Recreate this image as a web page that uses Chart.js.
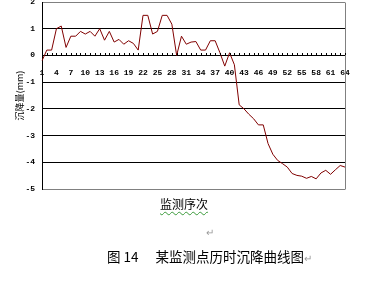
<!DOCTYPE html>
<html>
<head>
<meta charset="utf-8">
<script src="https://cdn.jsdelivr.net/npm/chart.js@4"></script>
<style>
  body { margin: 0; background: #fff; width: 385px; height: 282px; overflow: hidden; position: relative; font-family: "Noto Sans CJK SC", sans-serif; }
  #wrap { position: absolute; left: 0; top: -8px; width: 385px; height: 205px; }
  .txt { position: absolute; white-space: nowrap; color: #000; }
  .mark { color: #999; }
</style>
</head>
<body>
<div id="wrap"><canvas id="settleChart"></canvas></div>
<div class="txt" style="left:160px; top:195px; font-size:12px; text-decoration: underline wavy #3a9a3a; text-decoration-thickness: 1px; text-underline-offset: 2px;">监测序次</div>
<div class="txt mark" style="left:206px; top:224px; font-size:10px;">↵</div>
<div class="txt" style="left:107px; top:246px; font-size:13.5px;">图 14<span style="display:inline-block;width:17px"></span>某监测点历时沉降曲线图<span class="mark" style="font-size:10px">↵</span></div>

<script>
// monitoring sequence numbers
const seqLabels = ['1','2','3','4','5','6','7','8','9','10','11','12','13','14','15','16',
  '17','18','19','20','21','22','23','24','25','26','27','28','29','30','31','32',
  '33','34','35','36','37','38','39','40','41','42','43','44','45','46','47','48',
  '49','50','51','52','53','54','55','56','57','58','59','60','61','62','63','64'];

// settlement (mm)
const settlement = [-0.2, 0.2, 0.2, 1.0, 1.1, 0.3, 0.72, 0.72, 0.9, 0.8, 0.9, 0.72, 1.0, 0.57, 0.9, 0.5,
  0.6, 0.42, 0.55, 0.45, 0.2, 1.5, 1.5, 0.8, 0.9, 1.5, 1.5, 1.17, 0.0, 0.72, 0.42, 0.5,
  0.52, 0.2, 0.2, 0.55, 0.55, 0.1, -0.4, 0.1, -0.35, -1.85, -2.0, -2.2, -2.37, -2.6, -2.6, -3.3,
  -3.7, -3.93, -4.05, -4.18, -4.42, -4.49, -4.52, -4.6, -4.53, -4.62, -4.4, -4.3, -4.45, -4.28, -4.12, -4.18];

const yMin = -5, yMax = 2;
const yAxisTitle = '沉降量(mm)';

// gray frame on the right + little category ticks sitting on the zero line
const framePlugin = {
  id: 'frame',
  afterDraw(chart) {
    const { ctx, chartArea: a, scales } = chart;
    ctx.save();
    ctx.strokeStyle = '#808080';
    ctx.lineWidth = 1;
    ctx.beginPath();
    ctx.moveTo(Math.round(a.right) + 0.5, Math.round(a.top) + 0.5);
    ctx.lineTo(Math.round(a.right) + 0.5, Math.round(a.bottom) + 0.5);
    ctx.stroke();
    ctx.fillStyle = '#000';
    const y0 = Math.round(scales.y.getPixelForValue(0));
    seqLabels.forEach((l, i) => {
      const px = Math.round(scales.x.getPixelForValue(i));
      ctx.fillRect(px, y0 - 2, 1, 2);
    });
    ctx.restore();
  }
};

new Chart(document.getElementById('settleChart'), {
  type: 'line',
  data: {
    labels: seqLabels,
    datasets: [{
      data: settlement,
      borderColor: '#800000',
      borderWidth: 1,
      pointRadius: 0,
      tension: 0,
      fill: false
    }]
  },
  options: {
    responsive: true,
    maintainAspectRatio: false,
    animation: false,
    layout: { padding: { left: 0, top: 10, right: 40, bottom: 8 } },
    plugins: { legend: { display: false }, tooltip: { enabled: false } },
    scales: {
      x: {
        position: { y: 0 },
        offset: false,
        grid: { display: false },
        border: { display: false },
        afterFit: (s) => { s.paddingLeft = 0; s.paddingRight = 0; s.paddingTop = 0; s.paddingBottom = 0; },
        ticks: {
          autoSkip: false,
          maxRotation: 0,
          padding: 5,
          color: '#000',
          font: { family: 'Liberation Mono', size: 8, weight: 'bold' },
          callback: (v, i) => (i % 3 === 0 ? seqLabels[i] : '')
        }
      },
      y: {
        min: yMin,
        max: yMax,
        afterFit: (s) => { s.width = 42; s.paddingTop = 0; s.paddingBottom = 0; },
        ticks: {
          stepSize: 1,
          padding: 7,
          color: '#000',
          font: { family: 'Liberation Mono', size: 8, weight: 'bold' }
        },
        grid: {
          drawTicks: false,
          lineWidth: 1,
          color: (c) => (c.tick && (c.tick.value === yMax || c.tick.value === yMin) ? '#808080' : '#000')
        },
        border: { color: '#000', width: 1 },
        title: {
          display: true,
          text: yAxisTitle,
          color: '#000',
          font: { family: 'Noto Sans CJK SC', size: 9 },
          padding: { top: 14, bottom: 0 }
        }
      }
    }
  },
  plugins: [framePlugin]
});
</script>
</body>
</html>
